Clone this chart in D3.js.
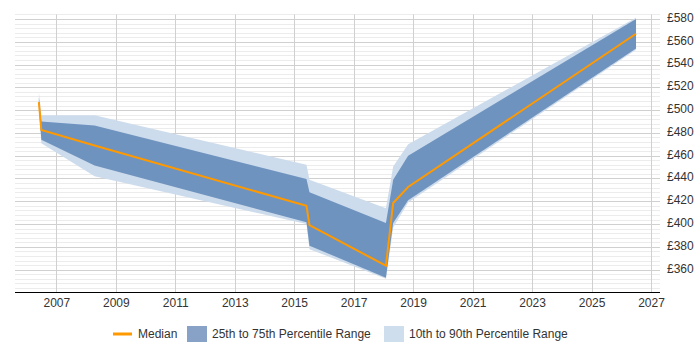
<!DOCTYPE html>
<html>
<head>
    <meta charset="utf-8">
    <title>median with percentile ranges</title>
    <script src="https://cdn.jsdelivr.net/npm/d3@7"></script>
    <style type="text/css">
        body { margin: 0; background: white; }
        svg text { font-family: "Liberation Sans", Arial, sans-serif; font-size: 12px; fill: #333; }
    </style>
</head>
<body>
<script>
    // dates of the data points
    var dates = ["2006-06-01", "2006-07-01", "2008-04-15", "2015-06-01", "2015-07-08",
                 "2018-02-01", "2018-05-01", "2018-11-01", "2026-07-01"];
    var median = [507, 482.5, 469, 416, 399, 363.5, 418.5, 432.5, 567];
    var p25 = [504, 474, 451.5, 401.5, 381, 353, 401, 421, 554];
    var p75 = [511, 490, 486.5, 439.5, 428, 401, 439, 460, 580];
    var p10 = [502, 471, 442, 400, 378, 352, 397, 419, 553];
    var p90 = [516, 495.5, 495.5, 452, 439, 414, 450.5, 470, 581];
    var xTicks = [2007, 2009, 2011, 2013, 2015, 2017, 2019, 2021, 2023, 2025, 2027];
    var yTicks = [360, 380, 400, 420, 440, 460, 480, 500, 520, 540, 560, 580];

    var w = 700, h = 350;
    var plotLeft = 15, plotRight = 660, plotTop = 14.4, plotBottom = 292;

    var parse = d3.timeParse("%Y-%m-%d");
    var data = dates.map(function(d, i) {
        return { date: parse(d), med: median[i], p25: p25[i], p75: p75[i], p10: p10[i], p90: p90[i] };
    });
    var years = xTicks.map(function(y) { return new Date(y, 0, 1); });

    var xScale = d3.scaleTime()
        .domain([new Date(2007, 0, 1), new Date(2027, 0, 1)])
        .range([56.3, 651]);

    var yScale = d3.scaleLinear()
        .domain([340.4, 584])
        .range([plotBottom, plotTop]);

    var svg = d3.select("body").append("svg")
        .attr("width", w)
        .attr("height", h);

    // minor and major horizontal grid
    var minor = d3.range(344, 585, 4);
    svg.append("g").selectAll("line")
        .data(minor)
        .enter().append("line")
        .attr("x1", plotLeft).attr("x2", plotRight)
        .attr("y1", function(d) { return Math.round(yScale(d)) + 0.5; })
        .attr("y2", function(d) { return Math.round(yScale(d)) + 0.5; })
        .attr("stroke", function(d) { return d % 20 == 0 ? "#d0d0d0" : "#ececec"; })
        .attr("stroke-width", 1);

    // vertical grid
    svg.append("g").selectAll("line")
        .data(years)
        .enter().append("line")
        .attr("x1", function(d) { return Math.round(xScale(d)) + 0.5; })
        .attr("x2", function(d) { return Math.round(xScale(d)) + 0.5; })
        .attr("y1", plotTop).attr("y2", plotBottom)
        .attr("stroke", "#d0d0d0");

    var area90 = d3.area()
        .x(function(d) { return xScale(d.date); })
        .y0(function(d) { return yScale(d.p10); })
        .y1(function(d) { return yScale(d.p90); });

    var area75 = d3.area()
        .x(function(d) { return xScale(d.date); })
        .y0(function(d) { return yScale(d.p25); })
        .y1(function(d) { return yScale(d.p75); });

    var line = d3.line()
        .x(function(d) { return xScale(d.date); })
        .y(function(d) { return yScale(d.med); });

    svg.append("path").datum(data)
        .attr("d", area90)
        .attr("fill", "#cddcec");

    svg.append("path").datum(data)
        .attr("d", area75)
        .attr("fill", "#6f93bf");

    svg.append("path").datum(data)
        .attr("d", line)
        .attr("fill", "none")
        .attr("stroke", "#ff9900")
        .attr("stroke-width", 2);

    // x axis
    var xAxis = d3.axisBottom(xScale)
        .tickValues(years)
        .tickSize(0)
        .tickPadding(6)
        .tickFormat(d3.timeFormat("%Y"));

    var gx = svg.append("g")
        .attr("transform", "translate(0," + plotBottom + ")")
        .call(xAxis);
    gx.select(".domain").remove();
    gx.selectAll("text").attr("font-size", 12).attr("fill", "#333");

    svg.append("line")
        .attr("x1", plotLeft).attr("x2", plotRight)
        .attr("y1", plotBottom + 0.5).attr("y2", plotBottom + 0.5)
        .attr("stroke", "#000");

    // y axis on the right
    var yAxis = d3.axisRight(yScale)
        .tickValues(yTicks)
        .tickSize(0)
        .tickPadding(7)
        .tickFormat(function(d) { return "£" + d; });

    var gy = svg.append("g")
        .attr("transform", "translate(" + plotRight + ",0)")
        .call(yAxis);
    gy.select(".domain").remove();
    gy.selectAll("text").attr("font-size", 12).attr("fill", "#333").attr("dy", "0.2em");

    // legend
    var legend = svg.append("g").attr("transform", "translate(0,334)");
    legend.append("line")
        .attr("x1", 113).attr("x2", 132)
        .attr("y1", 0).attr("y2", 0)
        .attr("stroke", "#ff9900").attr("stroke-width", 3);
    legend.append("text").attr("x", 138).attr("y", 4).text("Median");
    legend.append("rect")
        .attr("x", 187).attr("y", -8).attr("width", 20).attr("height", 16)
        .attr("fill", "#87a2c6");
    legend.append("text").attr("x", 212).attr("y", 4).text("25th to 75th Percentile Range");
    legend.append("rect")
        .attr("x", 384).attr("y", -8).attr("width", 20).attr("height", 16)
        .attr("fill", "#cfdeed");
    legend.append("text").attr("x", 409).attr("y", 4).text("10th to 90th Percentile Range");
</script>
</body>
</html>
